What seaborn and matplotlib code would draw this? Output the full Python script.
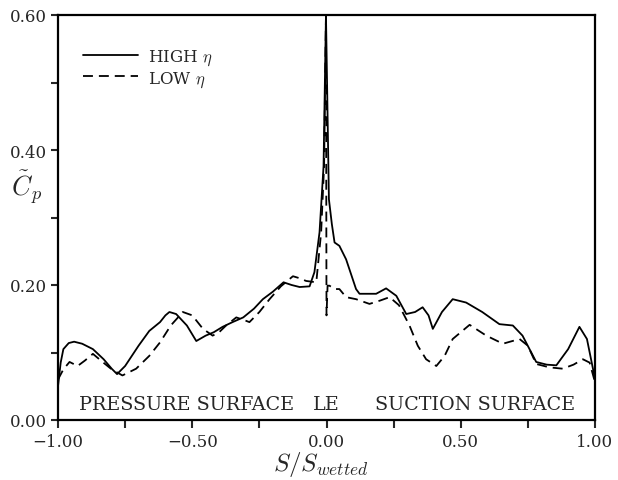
import numpy as np
import pandas as pd
import matplotlib
matplotlib.use("Agg")
import matplotlib.pyplot as plt
import seaborn as sns

# ---- data ----
x_high = [-1.0, -0.99, -0.98, -0.96, -0.94, -0.91, -0.87, -0.83, -0.80, -0.78, -0.75, -0.70, -0.66,
          -0.62, -0.60, -0.585, -0.56, -0.52, -0.485, -0.45, -0.42, -0.387, -0.35, -0.31, -0.27,
          -0.237, -0.20, -0.16, -0.13, -0.10, -0.063, -0.045, -0.026, -0.011, -0.002, 0.009,
          0.02, 0.03, 0.048, 0.073, 0.11, 0.123, 0.153, 0.185, 0.222, 0.26, 0.297, 0.33,
          0.358, 0.38, 0.396, 0.43, 0.47, 0.52, 0.58, 0.644, 0.694, 0.73, 0.781, 0.82, 0.856,
          0.90, 0.942, 0.97, 1.0]
y_high = [0.05, 0.085, 0.105, 0.114, 0.116, 0.113, 0.105, 0.09, 0.076, 0.068, 0.08, 0.11, 0.132,
          0.145, 0.155, 0.16, 0.157, 0.14, 0.117, 0.125, 0.13, 0.138, 0.145, 0.152, 0.165,
          0.179, 0.19, 0.204, 0.2, 0.197, 0.198, 0.219, 0.278, 0.376, 0.6, 0.327,
          0.29, 0.263, 0.258, 0.238, 0.194, 0.187, 0.187, 0.187, 0.195, 0.184, 0.157, 0.16,
          0.167, 0.155, 0.135, 0.16, 0.179, 0.174, 0.16, 0.142, 0.14, 0.125, 0.086, 0.082, 0.081,
          0.105, 0.138, 0.12, 0.061]

x_low = [-1.0, -0.98, -0.957, -0.927, -0.90, -0.87, -0.834, -0.80, -0.76, -0.709, -0.66, -0.62,
         -0.58, -0.535, -0.50, -0.46, -0.424, -0.40, -0.374, -0.336, -0.30, -0.287, -0.25,
         -0.212, -0.17, -0.125, -0.10, -0.076, -0.038, -0.02, -0.009, -0.002, 0.0, 0.004,
         0.011, 0.03, 0.048, 0.073, 0.11, 0.16, 0.20, 0.235, 0.27, 0.309, 0.34, 0.371, 0.409,
         0.44, 0.47, 0.533, 0.595, 0.657, 0.719, 0.75, 0.781, 0.83, 0.88, 0.92, 0.955, 0.98, 1.0]
y_low = [0.06, 0.075, 0.086, 0.08, 0.088, 0.098, 0.086, 0.075, 0.066, 0.076, 0.095, 0.115,
         0.14, 0.16, 0.155, 0.135, 0.125, 0.13, 0.14, 0.152, 0.147, 0.145, 0.16,
         0.179, 0.198, 0.213, 0.21, 0.206, 0.204, 0.278, 0.376, 0.6, 0.155, 0.199,
         0.199, 0.194, 0.194, 0.182, 0.179, 0.172, 0.177, 0.182, 0.17, 0.14, 0.11, 0.09, 0.08,
         0.095, 0.12, 0.141, 0.125, 0.113, 0.12, 0.11, 0.083, 0.078, 0.076, 0.082, 0.09, 0.085, 0.056]

series_labels = ["HIGH $\\eta$", "LOW $\\eta$"]
xtick_values = [-1.0, -0.75, -0.5, -0.25, 0.0, 0.25, 0.5, 0.75, 1.0]
xtick_labels = ["\u22121.00", "", "\u22120.50", "", "0.00", "", "0.50", "", "1.00"]
ytick_values = [0.0, 0.1, 0.2, 0.3, 0.4, 0.5, 0.6]
ytick_labels = ["0.00", "", "0.20", "", "0.40", "", "0.60"]
region_labels = ["PRESSURE SURFACE", "LE", "SUCTION SURFACE"]

# ---- style ----
sns.set_style("ticks")
plt.rcParams["font.family"] = ["DejaVu Serif"]
plt.rcParams["mathtext.fontset"] = "cm"

fig = plt.figure(figsize=(6.18, 4.81), dpi=100)
ax = fig.add_axes([58 / 618, 1 - 421 / 481, 537 / 618, 405 / 481])

df_high = pd.DataFrame({"x": x_high, "y": y_high})
df_low = pd.DataFrame({"x": x_low, "y": y_low})

dash = (0, (5.5, 3.3))
sns.lineplot(data=df_high, x="x", y="y", sort=False, estimator=None, ax=ax,
             color="black", linewidth=1.3, label=series_labels[0])
sns.lineplot(data=df_low, x="x", y="y", sort=False, estimator=None, ax=ax,
             color="black", linewidth=1.3, label=series_labels[1])
ax.lines[1].set_linestyle(dash)

ax.set_xlim(-1.0, 1.0)
ax.set_ylim(0.0, 0.6)
ax.set_xticks(xtick_values)
ax.set_xticklabels(xtick_labels)
ax.set_yticks(ytick_values)
ax.set_yticklabels(ytick_labels)
ax.tick_params(direction="out", length=5, width=1.5, labelsize=12, pad=3)
ax.tick_params(axis="x", length=6, pad=3.5)

for s in ax.spines.values():
    s.set_visible(True)
    s.set_linewidth(1.6)
    s.set_color("black")

ax.set_xlabel("$S/S_{wetted}$", fontsize=18, va="top")
ax.xaxis.set_label_coords(0.49, -0.072)
ax.set_ylabel("$\\tilde{C}_p$", fontsize=19, rotation=0, va="center", ha="center")
ax.yaxis.set_label_coords(-0.058, 0.575)

ax.text(-0.92, 0.016, region_labels[0], fontsize=13.8, va="baseline", ha="left")
ax.text(-0.052, 0.016, region_labels[1], fontsize=13.8, va="baseline", ha="left")
ax.text(0.179, 0.016, region_labels[2], fontsize=13.8, va="baseline", ha="left")

leg = ax.legend(loc="upper left", bbox_to_anchor=(0.035, 0.935), frameon=False,
                fontsize=12, handlelength=3.3, handletextpad=0.6, labelspacing=0.1,
                borderaxespad=0)
leg.get_lines()[1].set_linestyle(dash)

fig.savefig("out.png", dpi=100)
